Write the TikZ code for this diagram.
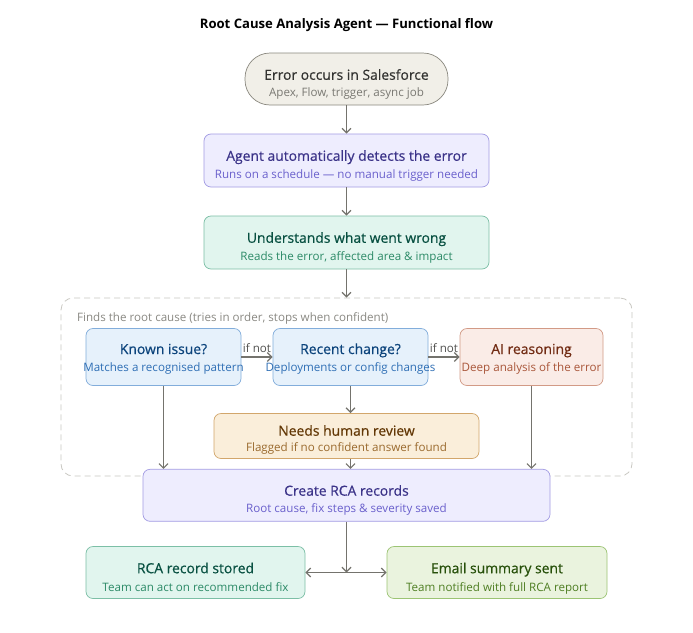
\documentclass[tikz,border=0pt]{standalone}
\usepackage{fontspec}
\setmainfont{Open Sans}
\usetikzlibrary{arrows.meta}
\definecolor{gFill}{HTML}{F1EFE8}\definecolor{gLine}{HTML}{8A887F}\definecolor{gT}{HTML}{333331}\definecolor{gS}{HTML}{7A7973}
\definecolor{pFill}{HTML}{EEEDFE}\definecolor{pLine}{HTML}{A29BE3}\definecolor{pT}{HTML}{3C3489}\definecolor{pS}{HTML}{6A60CC}
\definecolor{tFill}{HTML}{E1F5EE}\definecolor{tLine}{HTML}{7CBFA6}\definecolor{tT}{HTML}{085041}\definecolor{tS}{HTML}{2C8A67}
\definecolor{bFill}{HTML}{E6F1FB}\definecolor{bLine}{HTML}{82ADDB}\definecolor{bT}{HTML}{0C447C}\definecolor{bS}{HTML}{2F6FB5}
\definecolor{cFill}{HTML}{FAECE7}\definecolor{cLine}{HTML}{D29A86}\definecolor{cT}{HTML}{712B13}\definecolor{cS}{HTML}{A9563A}
\definecolor{aFill}{HTML}{FAEEDA}\definecolor{aLine}{HTML}{D2A66B}\definecolor{aT}{HTML}{633806}\definecolor{aS}{HTML}{9A6A2E}
\definecolor{eFill}{HTML}{EAF3DE}\definecolor{eLine}{HTML}{9CC474}\definecolor{eT}{HTML}{27500A}\definecolor{eS}{HTML}{4E7E22}
\definecolor{arr}{HTML}{74736D}\definecolor{dash}{HTML}{C9C8C2}\definecolor{lbl}{HTML}{8A8983}
\tikzset{
  box/.style={rectangle, rounded corners=7pt, line width=0.7pt, inner sep=0pt},
  pill/.style={rectangle, rounded corners=25pt, line width=0.7pt, inner sep=0pt},
  ttl/.style={anchor=base, inner sep=0pt, font=\fontsize{13.9}{16}\selectfont\addfontfeature{FakeBold=0.6}},
  sub/.style={anchor=base, inner sep=0pt, font=\fontsize{11.6}{13}\selectfont},
  flow/.style={draw=arr, line width=1.3pt, -{Straight Barb[length=4.5pt,width=9pt,line width=1.2pt]}},
  flow2/.style={draw=arr, line width=1.3pt, {Straight Barb[length=4.5pt,width=9pt,line width=1.2pt]}-{Straight Barb[length=4.5pt,width=9pt,line width=1.2pt]}},
}
% #1 box name, #2 title baseline offset, #3 sub baseline offset (down, pt), #4 title colour, #5 title, #6 sub colour, #7 sub
\newcommand{\boxtext}[7]{%
  \node[ttl, text=#4] (#1-t) at ([yshift=-#2pt]#1.center) {#5};
  \node[sub, text=#6] (#1-s) at ([yshift=-#3pt]#1.center) {#7};
}
\begin{document}
\begin{tikzpicture}[x=1pt,y=-1pt]
\useasboundingbox (0,0) rectangle (693,632);
\fill[white] (0,0) rectangle (693,632);
\node[font=\bfseries\fontsize{13.1}{15}\selectfont, text=black] (title) at (346.5,25) {Root Cause Analysis Agent — Functional flow};

\node[pill, draw=gLine, fill=gFill, minimum width=203pt, minimum height=52pt] (err) at (346.5,79) {};
\boxtext{err}{0.8}{17.8}{gT}{Error occurs in Salesforce}{gS}{Apex, Flow, trigger, async job}
\node[box, draw=pLine, fill=pFill, minimum width=285pt, minimum height=53pt] (agent) at (346.5,160.5) {};
\boxtext{agent}{0.3}{17.6}{pT}{Agent automatically detects the error}{pS}{Runs on a schedule — no manual trigger needed}
\node[box, draw=tLine, fill=tFill, minimum width=285pt, minimum height=53pt] (und) at (346.5,242.5) {};
\boxtext{und}{0.3}{17.6}{tT}{Understands what went wrong}{tS}{Reads the error, affected area \& impact}

\node[draw=dash, dashed, dash pattern=on 6pt off 4pt, line width=0.8pt, rounded corners=12pt, rectangle, minimum width=571pt, minimum height=178pt, inner sep=0pt] (group) at (346.5,387) {};
\node[anchor=base west, font=\fontsize{11.6}{13}\selectfont, text=lbl, inner sep=0pt] (glabel) at (77,321.5) {Finds the root cause (tries in order, stops when confident)};

\node[box, draw=bLine, fill=bFill, minimum width=155pt, minimum height=57pt] (known) at (163.5,357) {};
\boxtext{known}{-3}{14.8}{bT}{Known issue?}{bS}{Matches a recognised pattern}
\node[box, draw=bLine, fill=bFill, minimum width=155pt, minimum height=57pt] (recent) at (350.5,357) {};
\boxtext{recent}{-3}{14.8}{bT}{Recent change?}{bS}{Deployments or config changes}
\node[box, draw=cLine, fill=cFill, minimum width=143pt, minimum height=57pt] (ai) at (531.5,357) {};
\boxtext{ai}{-3}{14.8}{cT}{AI reasoning}{cS}{Deep analysis of the error}
\node[box, draw=aLine, fill=aFill, minimum width=265pt, minimum height=45pt] (human) at (346.5,436) {};
\boxtext{human}{-0.3}{15.7}{aT}{Needs human review}{aS}{Flagged if no confident answer found}
\node[box, draw=pLine, fill=pFill, minimum width=407pt, minimum height=52pt] (rca) at (346.5,495.3) {};
\boxtext{rca}{0.4}{17.4}{pT}{Create RCA records}{pS}{Root cause, fix steps \& severity saved}
\node[box, draw=tLine, fill=tFill, minimum width=219pt, minimum height=52pt] (stored) at (195.5,572.5) {};
\boxtext{stored}{0.7}{18.5}{tT}{RCA record stored}{tS}{Team can act on recommended fix}
\node[box, draw=eLine, fill=eFill, minimum width=220pt, minimum height=52pt] (email) at (497,572.5) {};
\boxtext{email}{0.7}{18.5}{eT}{Email summary sent}{eS}{Team notified with full RCA report}

\draw[flow] (err) -- (agent);
\draw[flow] (agent) -- (und);
\draw[flow] (und.south) -- (group.north -| und.south);
\draw[flow] (known.east) -- node[above, font=\fontsize{11.6}{13}\selectfont, text=gT!85, inner sep=3.5pt] (ifnot1) {if not} (recent.west);
\draw[flow] (recent.east) -- node[above, font=\fontsize{11.6}{13}\selectfont, text=gT!85, inner sep=3.5pt] (ifnot2) {if not} (ai.west);
\draw[flow] (known.south) -- (known.south |- rca.north);
\draw[flow] (recent.south) -- (recent.south |- human.north);
\draw[flow] (human.south -| recent.south) -- (recent.south |- rca.north);
\draw[flow] (ai.south) -- (ai.south |- rca.north);
\coordinate (junc) at (346.5,572.5);
\draw[flow] (rca.south) -- (junc);
\draw[flow2] (stored.east) -- (email.west);
\end{tikzpicture}
\end{document}
